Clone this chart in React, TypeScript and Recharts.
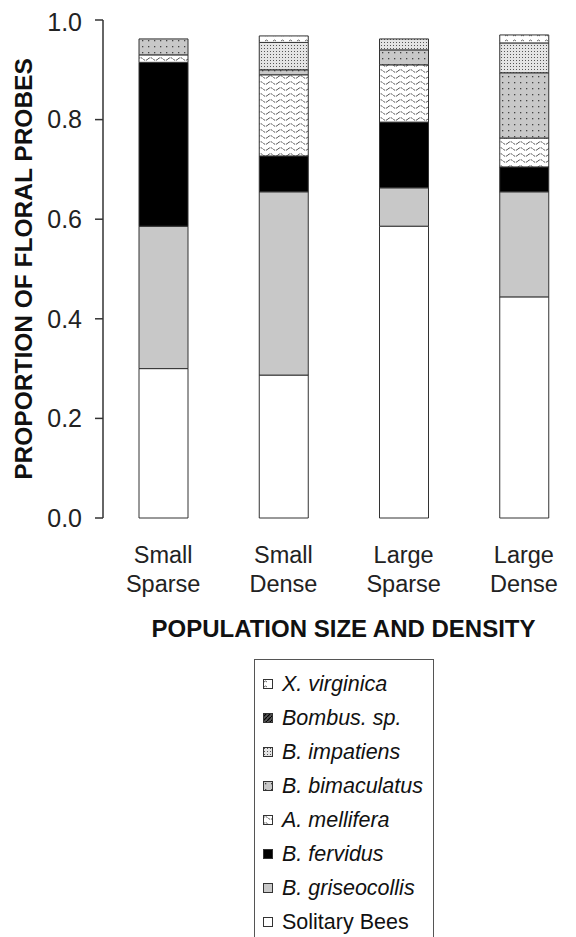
import { BarChart, Bar, XAxis, YAxis } from 'recharts';

const groups = ['Small Sparse', 'Small Dense', 'Large Sparse', 'Large Dense'];

const solitary = [0.3, 0.287, 0.586, 0.444];
const griseocollis = [0.286, 0.368, 0.077, 0.211];
const fervidus = [0.329, 0.072, 0.132, 0.05];
const mellifera = [0.015, 0.163, 0.115, 0.058];
const bimaculatus = [0.032, 0.01, 0.03, 0.131];
const impatiens = [0, 0.055, 0.022, 0.06];
const bombus = [0, 0, 0, 0];
const virginica = [0, 0.013, 0, 0.016];

const yTicks = [0, 0.2, 0.4, 0.6, 0.8, 1.0];
const edgeTicks = [0, 1, 2, 3, 4];

// bottom of the stack first
const series = [
  { key: 'solitary', name: 'Solitary Bees', values: solitary, fill: '#ffffff', italic: false },
  { key: 'griseocollis', name: 'B. griseocollis', values: griseocollis, fill: '#c8c8c8', italic: true },
  { key: 'fervidus', name: 'B. fervidus', values: fervidus, fill: '#000000', italic: true },
  { key: 'mellifera', name: 'A. mellifera', values: mellifera, fill: 'url(#pat-wave)', italic: true },
  { key: 'bimaculatus', name: 'B. bimaculatus', values: bimaculatus, fill: 'url(#pat-graydots)', italic: true },
  { key: 'impatiens', name: 'B. impatiens', values: impatiens, fill: 'url(#pat-densedots)', italic: true },
  { key: 'bombus', name: 'Bombus. sp.', values: bombus, fill: 'url(#pat-hatch)', italic: true },
  { key: 'virginica', name: 'X. virginica', values: virginica, fill: 'url(#pat-virginica)', italic: true },
];

const data = groups.map((name, i) => {
  const row: Record<string, number | string> = { name, idx: i };
  series.forEach((s) => {
    row[s.key] = s.values[i];
  });
  return row;
});

const FONT = '"Liberation Sans", Arial, sans-serif';

function Patterns() {
  return (
    <svg width={0} height={0} style={{ position: 'absolute' }}>
      <defs>
        <pattern id="pat-wave" width="10" height="6" patternUnits="userSpaceOnUse">
          <rect width="10" height="6" fill="#fff" />
          <path d="M0 3 Q2.5 0.5 5 3 T10 3" fill="none" stroke="#444" strokeWidth="1" strokeDasharray="2 1" />
        </pattern>
        <pattern id="pat-graydots" width="6" height="6" patternUnits="userSpaceOnUse">
          <rect width="6" height="6" fill="#c8c8c8" />
          <rect x="2" y="2" width="1.3" height="1.3" fill="#444" />
        </pattern>
        <pattern id="pat-densedots" width="3" height="3" patternUnits="userSpaceOnUse">
          <rect width="3" height="3" fill="#e4e4e4" />
          <rect x="1" y="1" width="1" height="1" fill="#555" />
        </pattern>
        <pattern id="pat-hatch" width="4" height="4" patternUnits="userSpaceOnUse">
          <rect width="4" height="4" fill="#555" />
          <path d="M0 4 L4 0" stroke="#000" strokeWidth="1.2" />
        </pattern>
        <pattern id="pat-virginica" width="8" height="5" patternUnits="userSpaceOnUse">
          <rect width="8" height="5" fill="#fff" />
          <path d="M1 3 Q2.5 1 4 3" fill="none" stroke="#555" strokeWidth="0.9" />
        </pattern>
      </defs>
    </svg>
  );
}

function CategoryTick(props: any) {
  const { x, y, payload } = props;
  const words = String(payload.value).split(' ');
  return (
    <text x={x} y={y} textAnchor="middle" fill="#222" fontSize={23.5} fontFamily={FONT}>
      <tspan x={x} dy={37}>{words[0]}</tspan>
      <tspan x={x} dy={28.5}>{words[1]}</tspan>
    </text>
  );
}

function LegendBox() {
  const items = [...series].reverse();
  return (
    <div
      style={{
        position: 'absolute',
        left: 246,
        top: 651,
        width: 180,
        height: 300,
        border: '1px solid #555',
        borderBottom: 'none',
        boxSizing: 'border-box',
        paddingTop: 7,
        fontFamily: FONT,
        background: '#fff',
      }}
    >
      {items.map((s) => (
        <div
          key={s.key}
          style={{ height: 34, display: 'flex', alignItems: 'center', paddingLeft: 8 }}
        >
          <svg width={10} height={10} style={{ marginRight: 9, flex: 'none' }}>
            <rect x={0.5} y={0.5} width={9} height={9} fill={s.fill} stroke="#333" strokeWidth={1} />
          </svg>
          <span
            style={{
              fontSize: 21.5,
              fontStyle: s.italic ? 'italic' : 'normal',
              color: '#111',
              whiteSpace: 'nowrap',
            }}
          >
            {s.name}
          </span>
        </div>
      ))}
    </div>
  );
}

export default function App() {
  return (
    <div style={{ position: 'relative', width: 568, height: 929, overflow: 'hidden', background: '#fff' }}>
      <Patterns />
      <BarChart
        width={576}
        height={640}
        data={data}
        margin={{ top: 12, right: 0, bottom: 0, left: 0 }}
        barCategoryGap={0}
      >
        <XAxis
          xAxisId="edges"
          type="number"
          dataKey="idx"
          domain={[0, 4]}
          ticks={edgeTicks}
          tick={false}
          tickSize={8}
          height={0}
          stroke="#333"
          strokeWidth={1.5}
          allowDataOverflow
        />
        <XAxis
          xAxisId="cat"
          dataKey="name"
          axisLine={false}
          tickLine={false}
          tick={<CategoryTick />}
          height={130}
          interval={0}
          label={{
            value: 'POPULATION SIZE AND DENSITY',
            position: 'insideBottom',
            offset: 11,
            fontSize: 24,
            fontWeight: 'bold',
            fill: '#111',
            fontFamily: FONT,
          }}
        />
        <YAxis
          domain={[0, 1]}
          ticks={yTicks}
          tickFormatter={(v: number) => v.toFixed(1)}
          width={95}
          tickSize={8}
          tickMargin={13}
          stroke="#333"
          strokeWidth={1.5}
          tick={{ fontSize: 25, fill: '#222', fontFamily: FONT }}
          label={{
            value: 'PROPORTION OF FLORAL PROBES',
            angle: -90,
            position: 'insideLeft',
            offset: 15,
            fontSize: 24.5,
            fontWeight: 'bold',
            fill: '#111',
            fontFamily: FONT,
            style: { textAnchor: 'middle' },
          }}
        />
        {series.map((s) => (
          <Bar
            key={s.key}
            dataKey={s.key}
            name={s.name}
            stackId="a"
            xAxisId="cat"
            fill={s.fill}
            stroke="#333"
            strokeWidth={1}
            barSize={49}
            isAnimationActive={false}
          />
        ))}
      </BarChart>
      <LegendBox />
    </div>
  );
}
